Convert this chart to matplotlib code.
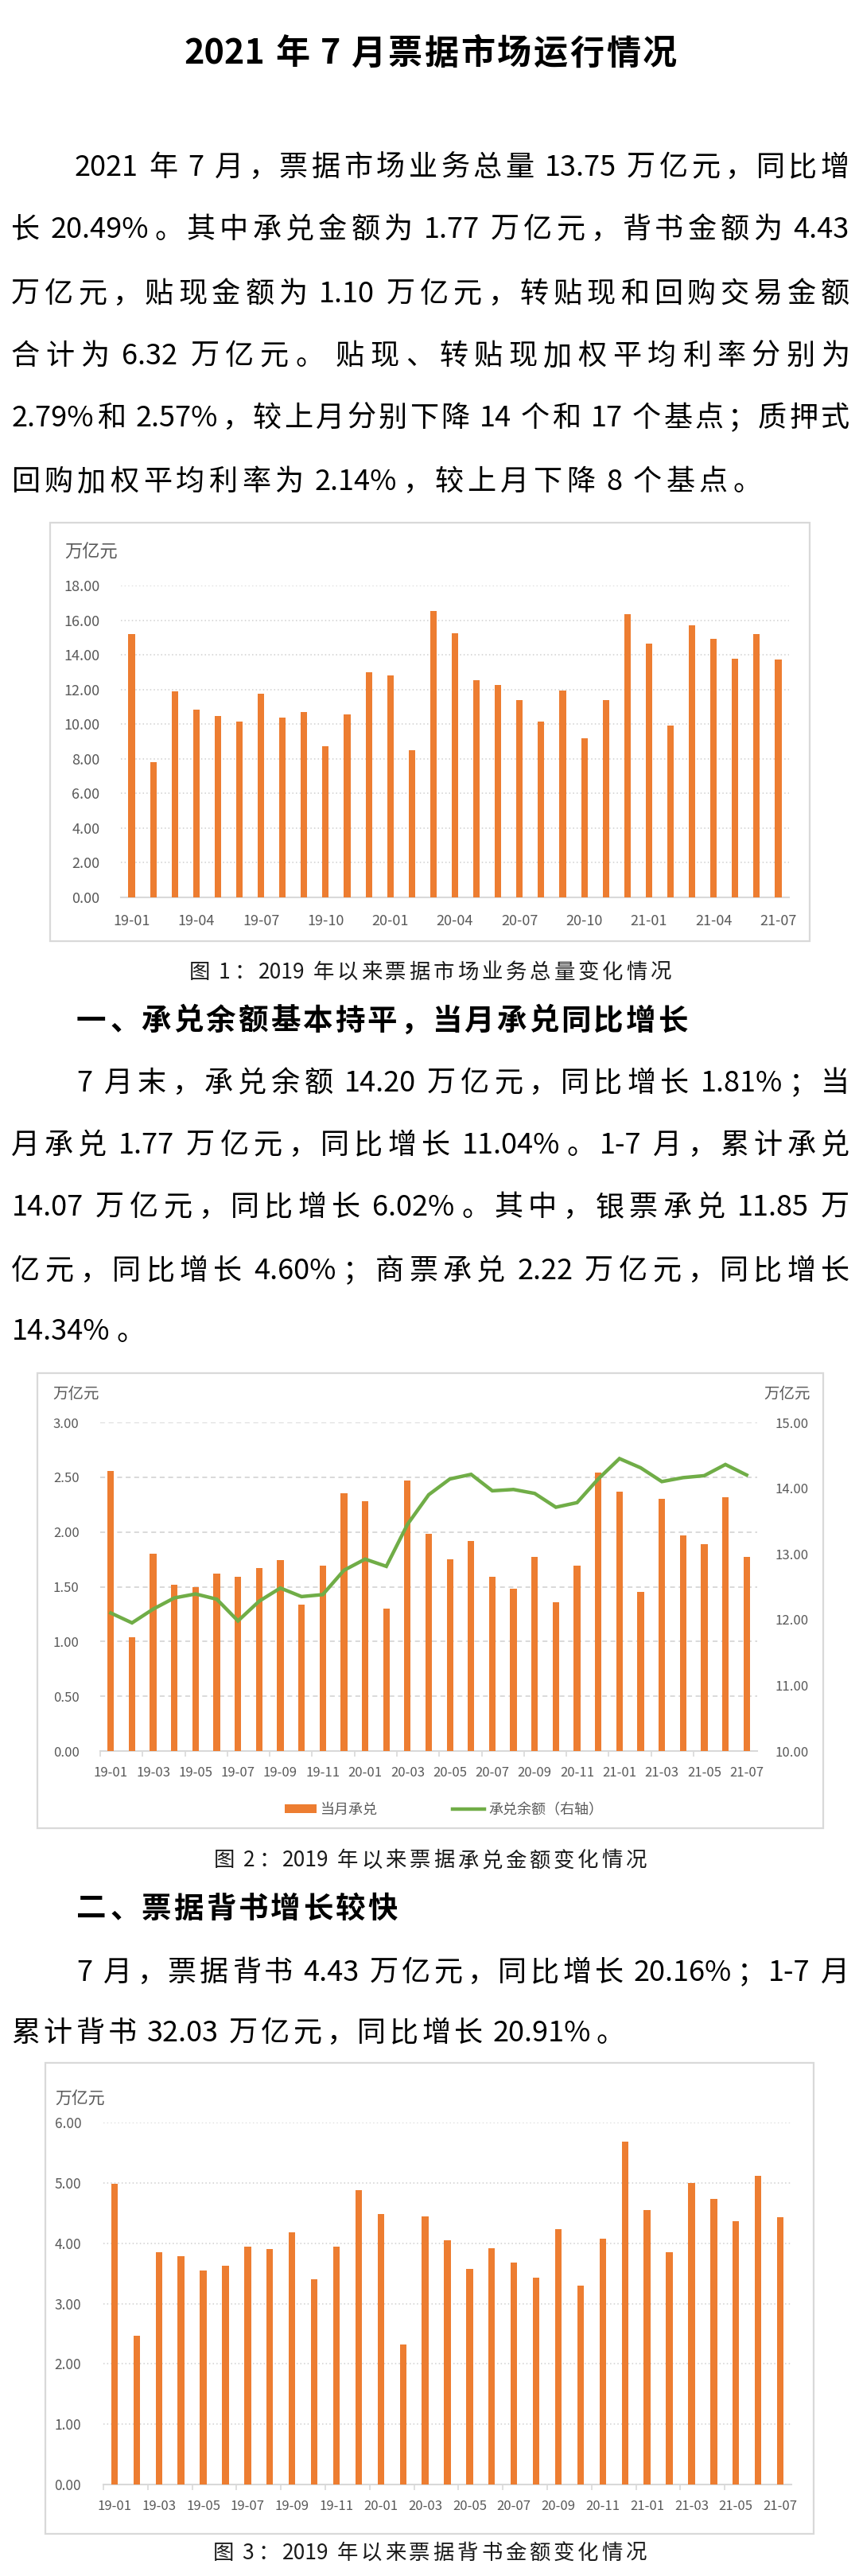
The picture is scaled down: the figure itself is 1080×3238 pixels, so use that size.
import re
import matplotlib
matplotlib.use('Agg')
import matplotlib.pyplot as plt
from matplotlib.patches import Rectangle, Patch
from matplotlib.lines import Line2D

plt.rcParams['font.family'] = ['Noto Sans CJK SC', 'DejaVu Sans']
plt.rcParams['axes.unicode_minus'] = False

# ---------------- data ----------------
months = ['19-01', '19-02', '19-03', '19-04', '19-05', '19-06', '19-07', '19-08',
          '19-09', '19-10', '19-11', '19-12', '20-01', '20-02', '20-03', '20-04',
          '20-05', '20-06', '20-07', '20-08', '20-09', '20-10', '20-11', '20-12',
          '21-01', '21-02', '21-03', '21-04', '21-05', '21-06', '21-07']

# 图1 票据市场业务总量（万亿元）
total_volume = [15.20, 7.79, 11.90, 10.85, 10.46, 10.15, 11.74, 10.39, 10.72, 8.72,
                10.57, 12.98, 12.79, 8.51, 16.54, 15.25, 12.52, 12.25, 11.38, 10.15,
                11.95, 9.18, 11.38, 16.36, 14.64, 9.90, 15.70, 14.93, 13.77, 15.20,
                13.75]

# 图2 当月承兑（左轴）与承兑余额（右轴）
accept_monthly = [2.56, 1.04, 1.80, 1.52, 1.50, 1.62, 1.59, 1.67, 1.74, 1.34,
                  1.69, 2.35, 2.28, 1.30, 2.47, 1.98, 1.75, 1.92, 1.59, 1.48,
                  1.77, 1.36, 1.69, 2.54, 2.37, 1.45, 2.30, 1.97, 1.89, 2.32,
                  1.77]
accept_balance = [12.10, 11.95, 12.16, 12.33, 12.39, 12.31, 11.98, 12.28, 12.48, 12.35,
                  12.38, 12.75, 12.92, 12.81, 13.45, 13.90, 14.14, 14.21, 13.96, 13.98,
                  13.92, 13.71, 13.78, 14.14, 14.45, 14.31, 14.10, 14.16, 14.19, 14.36,
                  14.20]

# 图3 背书金额
endorse_amount = [4.99, 2.46, 3.85, 3.79, 3.55, 3.62, 3.94, 3.90, 4.18, 3.40,
                  3.94, 4.88, 4.49, 2.32, 4.44, 4.05, 3.57, 3.92, 3.68, 3.43,
                  4.23, 3.30, 4.07, 5.69, 4.55, 3.85, 5.00, 4.74, 4.36, 5.12,
                  4.43]

title_text = '2021 年 7 月票据市场运行情况'
para1 = ['2021 年 7 月，票据市场业务总量 13.75 万亿元，同比增',
         '长 20.49%。其中承兑金额为 1.77 万亿元，背书金额为 4.43',
         '万亿元，贴现金额为 1.10 万亿元，转贴现和回购交易金额',
         '合计为 6.32 万亿元。 贴现、转贴现加权平均利率分别为',
         '2.79%和 2.57%，较上月分别下降 14 个和 17 个基点；质押式',
         '回购加权平均利率为 2.14%，较上月下降 8 个基点。']
caption1 = '图 1：2019 年以来票据市场业务总量变化情况'
heading1 = '一、承兑余额基本持平，当月承兑同比增长'
para2 = ['7 月末，承兑余额 14.20 万亿元，同比增长 1.81%；当',
         '月承兑 1.77 万亿元，同比增长 11.04%。1-7 月，累计承兑',
         '14.07 万亿元，同比增长 6.02%。其中，银票承兑 11.85 万',
         '亿元，同比增长 4.60%；商票承兑 2.22 万亿元，同比增长',
         '14.34%。']
caption2 = '图 2：2019 年以来票据承兑金额变化情况'
heading2 = '二、票据背书增长较快'
para3 = ['7 月，票据背书 4.43 万亿元，同比增长 20.16%；1-7 月',
         '累计背书 32.03 万亿元，同比增长 20.91%。']
caption3 = '图 3：2019 年以来票据背书金额变化情况'
unit_label = '万亿元'
legend_labels = ['当月承兑', '承兑余额（右轴）']

# ---------------- styles ----------------
ORANGE = '#ED7D31'
GREEN = '#70AD47'
GRAY_TXT = '#595959'
GRID = '#d0d0d0'
BOX = '#d9d9d9'

W, H = 1080, 3238
fig = plt.figure(figsize=(W / 100, H / 100), dpi=100)
fig.patch.set_facecolor('white')
renderer = fig.canvas.get_renderer()

TOK = re.compile(r'[0-9A-Za-z.%\-]+|\s+|[^\s0-9A-Za-z.%\-]')
ASCII_CH = set('0123456789abcdefghijklmnopqrstuvwxyzABCDEFGHIJKLMNOPQRSTUVWXYZ.%-')
PUNCT_L = set('，。；：、）')
PUNCT_R = set('（')


def fx(px):
    return px / W


def fy(py):
    return 1 - py / H


def text_line(s, x0, x1, yc, size, weight='normal', justify=True, gap=None,
              color='#000000'):
    em = size * 100 / 72
    toks = []
    pend = False
    for p in TOK.findall(s):
        if p.isspace():
            pend = True
            continue
        kind = 'a' if p[0] in ASCII_CH else 'c'
        toks.append((p, kind, pend))
        pend = False
    objs, widths = [], []
    for t, k, sp in toks:
        o = fig.text(0, 0, t, fontsize=size, weight=weight, color=color,
                     va='baseline')
        if k == 'a':
            w = o.get_window_extent(renderer).width + 0.04 * em
        else:
            w = em
        objs.append(o)
        widths.append(w)
    sp_w = 0.22 * em
    n = max(len(toks) - 1, 1)
    n_sp = sum(1 for t in toks[1:] if t[2])
    natural = sum(widths) + n_sp * sp_w
    if justify:
        g = (x1 - x0 - natural) / n
    else:
        g = gap if gap is not None else 0.05 * em
    x = x0
    base = yc + 0.36 * em
    for i, (o, (t, k, sp), w) in enumerate(zip(objs, toks, widths)):
        if i > 0:
            x += g + (sp_w if sp else 0)
        if k == 'a':
            o.set_position((fx(x + 0.02 * em), fy(base)))
            o.set_ha('left')
        elif t in PUNCT_L:
            o.set_position((fx(x + 0.04 * em), fy(base)))
            o.set_ha('left')
        elif t in PUNCT_R:
            o.set_position((fx(x + w - 0.04 * em), fy(base)))
            o.set_ha('right')
        else:
            o.set_position((fx(x + w / 2), fy(base)))
            o.set_ha('center')
        x += w
    return g


def paragraph(lines, ys, size, indent_x=95, left=14, right=1068):
    gaps = []
    for i, (ln, y) in enumerate(zip(lines[:-1], ys[:-1])):
        x0 = indent_x if i == 0 else left
        gaps.append(text_line(ln, x0, right, y, size))
    g = sum(gaps) / len(gaps) if gaps else None
    x0 = indent_x if len(lines) == 1 else left
    text_line(lines[-1], x0, right, ys[-1], size, justify=False, gap=g)


def rect(x0, y0, x1, y1):
    return [fx(x0), fy(y1), (x1 - x0) / W, (y1 - y0) / H]


def box(x0, y0, x1, y1):
    fig.patches.append(Rectangle((fx(x0), fy(y1)), (x1 - x0) / W, (y1 - y0) / H,
                                 transform=fig.transFigure, fill=False,
                                 edgecolor=BOX, lw=1.6))


# ---------------- text blocks ----------------
text_line(title_text, 231, 851, 65, 31, weight='bold')
paragraph(para1, [208, 286, 367, 445, 523, 603], 26, indent_x=93)
text_line(caption1, 238, 844, 1220, 19, color='#1a1a1a')
text_line(heading1, 96, 865, 1281, 27, weight='bold')
paragraph(para2, [1359, 1437, 1515, 1595, 1671], 26, indent_x=96)
text_line(caption2, 269, 813, 2337, 19, color='#1a1a1a')
text_line(heading2, 96, 500, 2397, 27, weight='bold')
paragraph(para3, [2477, 2553], 26, indent_x=96)
text_line(caption3, 268, 813, 3207, 19, color='#1a1a1a')

xs = list(range(len(months)))


def style_common(ax, labelsize):
    for s in ['top', 'right', 'left']:
        ax.spines[s].set_visible(False)
    ax.spines['bottom'].set_color(BOX)
    ax.spines['bottom'].set_linewidth(1.5)
    ax.tick_params(axis='y', length=0, labelsize=labelsize, labelcolor=GRAY_TXT)
    ax.set_axisbelow(True)
    ax.set_facecolor('none')


# ---------------- chart 1 ----------------
box(63, 657, 1018, 1183)
ax1 = fig.add_axes(rect(152, 736, 992, 1128))
ax1.bar(xs, total_volume, width=0.3, color=ORANGE, zorder=3)
ax1.set_xlim(-0.5, len(months) - 0.5)
ax1.set_ylim(0, 18)
yt1 = [0, 2, 4, 6, 8, 10, 12, 14, 16, 18]
ax1.set_yticks(yt1)
ax1.set_yticklabels([f'{v:.2f}' for v in yt1])
ax1.set_xticks(xs[::3])
ax1.set_xticklabels(months[::3])
style_common(ax1, 13)
ax1.tick_params(axis='y', pad=19)
ax1.tick_params(axis='x', length=0, labelsize=13, labelcolor=GRAY_TXT, pad=15)
ax1.yaxis.grid(True, linestyle=(0, (1, 2)), color=GRID, lw=1.1)
fig.text(fx(81), fy(694), unit_label, fontsize=16, color=GRAY_TXT, va='center', ha='left')

# ---------------- chart 2 ----------------
box(47, 1726, 1035, 2298)
ax2 = fig.add_axes(rect(126, 1788, 952, 2201))
bars2 = ax2.bar(xs, accept_monthly, width=0.31, color=ORANGE, zorder=3)
ax2.set_xlim(-0.5, len(months) - 0.5)
ax2.set_ylim(0, 3)
yt2 = [0, 0.5, 1.0, 1.5, 2.0, 2.5, 3.0]
ax2.set_yticks(yt2)
ax2.set_yticklabels([f'{v:.2f}' for v in yt2])
style_common(ax2, 12)
ax2.tick_params(axis='y', pad=19)
ax2.set_xticks([b - 0.5 for b in xs[::2][:-1]])
ax2.set_xticklabels([])
ax2.set_xticks(xs[::2], minor=True)
ax2.set_xticklabels(months[::2], minor=True)
ax2.tick_params(axis='x', which='major', length=5, color=BOX, width=1.2)
ax2.tick_params(axis='x', which='minor', length=0, labelsize=12,
                labelcolor=GRAY_TXT, pad=14)
ax2.yaxis.grid(True, linestyle=(0, (4, 3)), color=GRID, lw=1.1)
ax2r = ax2.twinx()
line2, = ax2r.plot(xs, accept_balance, color=GREEN, lw=3.2, solid_joinstyle='miter')
ax2r.set_ylim(10, 15)
yt2r = [10, 11, 12, 13, 14, 15]
ax2r.set_yticks(yt2r)
ax2r.set_yticklabels([f'{v:.2f}' for v in yt2r])
for s in ['top', 'right', 'left', 'bottom']:
    ax2r.spines[s].set_visible(False)
ax2r.tick_params(axis='y', length=0, labelsize=12, labelcolor=GRAY_TXT, pad=16)
fig.text(fx(66), fy(1753), unit_label, fontsize=14, color=GRAY_TXT, va='center', ha='left')
fig.text(fx(960), fy(1753), unit_label, fontsize=14, color=GRAY_TXT, va='center', ha='left')
handles = [Patch(facecolor=ORANGE, edgecolor='none'),
           Line2D([0], [0], color=GREEN, lw=3.2)]
fig.legend(handles, legend_labels, loc='center', ncol=2,
           bbox_to_anchor=(fx(558), fy(2275)), bbox_transform=fig.transFigure,
           frameon=False, fontsize=13, handlelength=2.2, handleheight=0.5,
           handletextpad=0.3, columnspacing=5.2, labelcolor=GRAY_TXT)

# ---------------- chart 3 ----------------
box(57, 2593, 1023, 3185)
ax3 = fig.add_axes(rect(130, 2668, 995, 3123))
ax3.bar(xs, endorse_amount, width=0.3, color=ORANGE, zorder=3)
ax3.set_xlim(-0.5, len(months) - 0.5)
ax3.set_ylim(0, 6)
yt3 = [0, 1, 2, 3, 4, 5, 6]
ax3.set_yticks(yt3)
ax3.set_yticklabels([f'{v:.2f}' for v in yt3])
style_common(ax3, 12.5)
ax3.tick_params(axis='y', pad=20)
ax3.set_xticks([b - 0.5 for b in xs[::2][:-1]])
ax3.set_xticklabels([])
ax3.set_xticks(xs[::2], minor=True)
ax3.set_xticklabels(months[::2], minor=True)
ax3.tick_params(axis='x', which='major', length=5, color=BOX, width=1.2)
ax3.tick_params(axis='x', which='minor', length=0, labelsize=12,
                labelcolor=GRAY_TXT, pad=14)
ax3.yaxis.grid(True, linestyle=(0, (1, 2)), color=GRID, lw=1.1)
fig.text(fx(69), fy(2638), unit_label, fontsize=15, color=GRAY_TXT, va='center', ha='left')

fig.savefig('out.png', dpi=100, facecolor='white')
